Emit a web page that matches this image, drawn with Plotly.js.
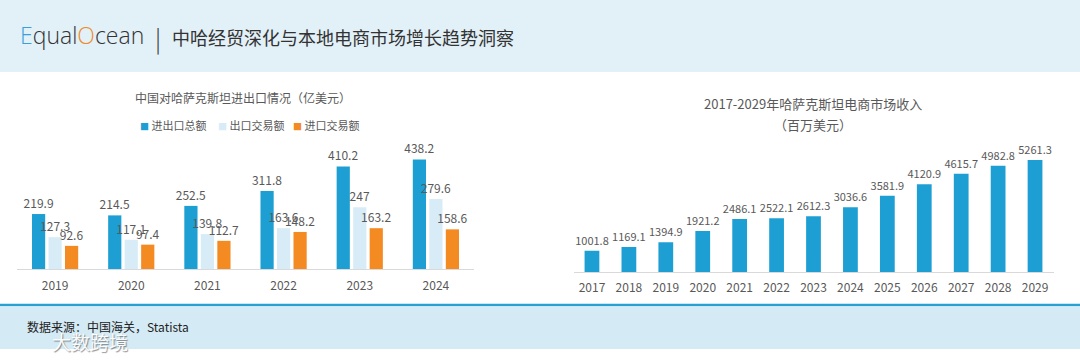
<!DOCTYPE html>
<html>
<head>
<meta charset="utf-8">
<script src="https://cdn.plot.ly/plotly-3.0.1.min.js"></script>
<style>html,body{margin:0;padding:0;background:#fff;}#chart{width:1080px;height:362px;}</style>
</head>
<body>
<div id="chart"></div>
<script>
// Left chart data
const tradeYears = ['2019','2020','2021','2022','2023','2024'];
const seriesNames = ['进出口总额','出口交易额','进口交易额'];
const totalTrade = [219.9, 214.5, 252.5, 311.8, 410.2, 438.2];
const exportTrade = [127.3, 117.1, 139.8, 163.6, 247, 279.6];
const importTrade = [92.6, 97.4, 112.7, 148.2, 163.2, 158.6];
// Right chart data
const ecomYears = ['2017','2018','2019','2020','2021','2022','2023','2024','2025','2026','2027','2028','2029'];
const ecomRevenue = [1001.8, 1169.1, 1394.9, 1921.2, 2486.1, 2522.1, 2612.3, 3036.6, 3581.9, 4120.9, 4615.7, 4982.8, 5261.3];

const W = 1080, H = 362;
const px = x => x / W;
const py = y => 1 - y / H;
const FONT = '"Noto Sans CJK SC", "Noto Sans", sans-serif';
const colors = ['#1e9fd4', '#d8ecf7', '#f48a22'];

const traces = [totalTrade, exportTrade, importTrade].map((vals, i) => ({
  type: 'bar', x: tradeYears, y: vals, name: seriesNames[i],
  marker: {color: colors[i]},
  text: vals.map(v => String(v)), textposition: 'outside', constraintext: 'none',
  textfont: {family: FONT, size: 12, color: '#595959'}, cliponaxis: false,
  xaxis: 'x', yaxis: 'y', hoverinfo: 'x+y'
}));
traces.push({
  type: 'bar', x: ecomYears, y: ecomRevenue, name: '电商市场收入',
  marker: {color: colors[0]}, width: 0.4,
  text: ecomRevenue.map(v => v.toFixed(1)), textposition: 'outside', constraintext: 'none',
  textfont: {family: FONT, size: 11, color: '#595959'}, cliponaxis: false,
  xaxis: 'x2', yaxis: 'y2', hoverinfo: 'x+y'
});

const axisX = (d, standoff, anchor) => ({
  type: 'category', domain: d, anchor: anchor, showgrid: false, zeroline: false, showline: true,
  linecolor: '#d9d9d9', linewidth: 1, ticks: '', ticklabelstandoff: standoff, dtick: 1,
  tickfont: {family: FONT, size: 12, color: '#595959'}, fixedrange: true
});
const axisY = (d, r, anchor) => ({
  domain: d, range: r, visible: false, showgrid: false, zeroline: false, anchor: anchor, fixedrange: true
});

const ann = (o) => Object.assign({xref: 'paper', yref: 'paper', showarrow: false, yanchor: 'middle'}, o);
const annotations = [
  ann({text: '<span style="color:#3aa0dc">E</span>qual<span style="color:#f08c2a">O</span>cean',
   x: px(18), y: py(35), xanchor: 'left',
   font: {family: '"Open Sans", sans-serif', size: 23, color: '#333333', weight: 300}}),
  ann({text: '|', x: px(158), y: py(37), xanchor: 'center',
   font: {family: FONT, size: 24, color: '#333333', weight: 300}}),
  ann({text: '中哈经贸深化与本地电商市场增长趋势洞察', x: px(170), y: py(37), xanchor: 'left',
   font: {family: FONT, size: 18, color: '#333333'}}),
  ann({text: '中国对哈萨克斯坦进出口情况（亿美元）', x: px(243), y: py(98), xanchor: 'center',
   font: {family: FONT, size: 12, color: '#595959'}}),
  ann({text: '2017-2029年哈萨克斯坦电商市场收入', x: px(813), y: py(103), xanchor: 'center',
   font: {family: FONT, size: 13, color: '#595959'}}),
  ann({text: '（百万美元）', x: px(813), y: py(124), xanchor: 'center',
   font: {family: FONT, size: 13, color: '#595959'}}),
  ann({text: '数据来源：中国海关，Statista', x: px(25), y: py(326), xanchor: 'left',
   font: {family: FONT, size: 12, color: '#222222'}}),
  ann({text: '大数跨境', x: px(50), y: py(341), xanchor: 'left',
   font: {family: FONT, size: 19, color: 'rgba(255,255,255,0.95)', shadow: '1px 1px 1px rgba(0,0,0,0.45)'}})
];
const legendX = [138, 216, 291];
seriesNames.forEach((n, i) => {
  annotations.push(ann({
    text: '<span style="color:' + colors[i] + ';font-size:9px">■</span> ' + n,
    x: px(legendX[i]), y: py(125), xanchor: 'left',
    font: {family: FONT, size: 11, color: '#595959'}
  }));
});

const shapes = [
  {type: 'rect', xref: 'paper', yref: 'paper', x0: 0, x1: 1, y0: py(72), y1: py(0), fillcolor: '#e2f0f8', line: {width: 0}, layer: 'below'},
  {type: 'rect', xref: 'paper', yref: 'paper', x0: 0, x1: 1, y0: py(349), y1: py(307), fillcolor: '#d4eaf5', line: {width: 0}, layer: 'below'},
  {type: 'line', xref: 'paper', yref: 'paper', x0: 0, x1: 1, y0: py(305), y1: py(305), line: {color: '#2a9fd2', width: 2.5}}
];

const layout = {
  width: W, height: H, margin: {l: 0, r: 0, t: 0, b: 0},
  paper_bgcolor: '#ffffff', plot_bgcolor: 'rgba(0,0,0,0)',
  showlegend: false, barmode: 'group', bargap: 0.35, bargroupgap: 0.2,
  font: {family: FONT},
  xaxis: axisX([px(17), px(474)], 6, 'y'),
  yaxis: axisY([py(269), py(150)], [0, 476], 'x'),
  xaxis2: axisX([px(573.5), px(1053.5)], 5, 'y2'),
  yaxis2: axisY([py(272), py(150)], [0, 5728], 'x2'),
  annotations: annotations, shapes: shapes
};

Plotly.newPlot('chart', traces, layout, {staticPlot: true, displayModeBar: false});
</script>
</body>
</html>
